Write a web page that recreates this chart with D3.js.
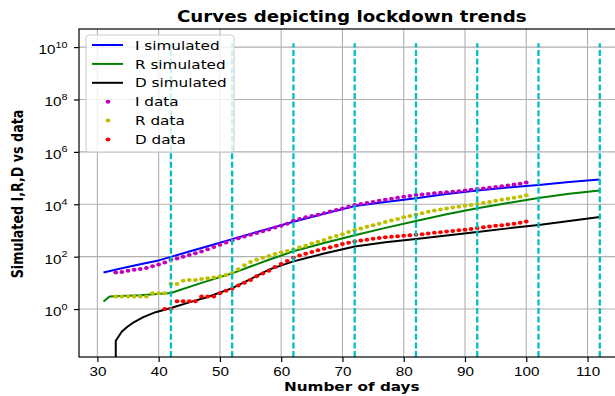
<!DOCTYPE html>
<html>
<head>
<meta charset="utf-8">
<script src="https://cdn.jsdelivr.net/npm/d3@7"></script>
<style>
  body { margin: 0; background: #fff; }
  svg { display: block; font-family: "DejaVu Sans", sans-serif; }
</style>
</head>
<body>
<div id="chart-container"></div>
<script>
// simulated curves (day, value)
const simIDays = [31, 34, 37, 40, 42, 45, 48, 52, 55, 58, 62, 67, 72, 77, 82, 87, 92, 97, 102, 107, 112];
const simI = [25, 36, 51, 72, 98, 158, 251, 468, 741, 1175, 2138, 4365, 8511, 12303, 16982, 24547, 33884, 43652, 54954, 70795, 89125];

const simRDays = [31, 32, 37, 42, 47, 52, 55, 58, 62, 67, 72, 77, 82, 87, 92, 97, 102, 107, 112];
const simR = [1.95, 3.0, 3.4, 4.1, 10, 23, 42, 76, 160, 331, 661, 1259, 2291, 4169, 7079, 11220, 17378, 25119, 33884];

const simDDays = [33, 33, 34, 35, 36, 37.5, 39.5, 42, 45, 48, 52, 55, 58, 62, 67, 72, 77, 82, 87, 92, 97, 102, 107, 112];
const simD = [0, 0.062, 0.14, 0.22, 0.32, 0.49, 0.76, 1.1, 1.8, 2.9, 6.3, 14, 32, 66, 132, 245, 355, 468, 646, 871, 1202, 1622, 2291, 3236];

// observed data, one value per day
const dataIRDays = d3.range(33, 101);
const dataI = [25, 26, 29, 32, 34, 37, 43, 50, 60, 76, 85, 100, 115, 135, 158, 191, 234, 282, 347, 417,
  501, 589, 692, 794, 933, 1096, 1288, 1514, 1820, 2399, 2754, 3162, 3548, 3981, 4571, 5248, 6026, 6918,
  8128, 9333, 10233, 11220, 12303, 13490, 14791, 16218, 17783, 19498, 20893, 22387, 23442, 24547, 26303,
  27542, 28840, 30200, 31623, 33884, 35481, 38019, 39811, 42658, 45709, 48978, 52481, 56234, 60256, 67608];
const dataR = [3, 3, 3, 3, 3, 3, 4, 4, 4, 9, 9, 12, 13, 13, 14, 15, 16, 18, 20, 24,
  33, 47, 63, 76, 91, 107, 126, 145, 166, 186, 224, 263, 316, 372, 437, 525, 617, 724,
  871, 1047, 1202, 1380, 1585, 1820, 2089, 2399, 2754, 3162, 3548, 4074, 4571, 5129, 5754,
  6310, 6918, 7586, 8128, 8710, 9333, 10233, 11220, 12303, 13490, 14791, 16218, 17783, 19498, 21878];
const dataDDays = d3.range(41, 101);
const dataD = [1, 1, 2, 2, 2, 2, 3, 3, 3, 4, 5, 6, 8, 10, 13, 18, 23, 29, 40, 52, 69, 91,
  110, 129, 151, 174, 200, 229, 263, 302, 339, 380, 417, 447, 479, 513, 550, 575, 603, 631,
  661, 692, 724, 759, 813, 851, 912, 955, 1023, 1072, 1148, 1230, 1318, 1413, 1514, 1585,
  1698, 1820, 1950, 2188];

// lockdown markers
const lockdownDays = [42, 52, 62, 72, 82, 92, 102, 112];
const lockdownTop = 1.4e10;

const xTicks = [30, 40, 50, 60, 70, 80, 90, 100, 110];
const yTickExps = [0, 2, 4, 6, 8, 10];

// the picture is stretched sideways, text too
const stretch = 1.2;
const fs = 12.7;

function drawChart() {
  const margin = { top: 29, left: 79 };
  const width = 545.6;
  const height = 328;

  const root = d3.select("#chart-container")
    .append("svg")
    .attr("width", 615)
    .attr("height", 396);

  root.append("defs").append("clipPath").attr("id", "plot-clip")
    .append("rect").attr("width", width).attr("height", height);

  const svg = root.append("g").attr("transform", `translate(${margin.left},${margin.top})`);

  const x = d3.scaleLinear().domain([27, 116.05]).range([0, width]);
  const y = d3.scaleLog().domain([0.0148, 4.9e10]).range([height, 0]);
  const yPos = (v) => (v > 0 ? y(v) : height + 10);

  // grid
  svg.append("g").selectAll("line").data(xTicks).join("line")
    .attr("x1", (d) => x(d)).attr("x2", (d) => x(d))
    .attr("y1", 0).attr("y2", height)
    .attr("stroke", "#b0b0b0").attr("stroke-width", 1.1);
  svg.append("g").selectAll("line").data(yTickExps).join("line")
    .attr("x1", 0).attr("x2", width)
    .attr("y1", (d) => y(Math.pow(10, d))).attr("y2", (d) => y(Math.pow(10, d)))
    .attr("stroke", "#b0b0b0").attr("stroke-width", 1.1);

  const plot = svg.append("g").attr("clip-path", "url(#plot-clip)");

  const line = d3.line().x((d) => x(d[0])).y((d) => yPos(d[1]));

  const curves = [
    { days: simIDays, vals: simI, color: "#0000ff" },
    { days: simRDays, vals: simR, color: "#008000" },
    { days: simDDays, vals: simD, color: "#000000" },
  ];
  curves.forEach((c) => {
    plot.append("path")
      .datum(c.days.map((d, i) => [d, c.vals[i]]))
      .attr("fill", "none")
      .attr("stroke", c.color)
      .attr("stroke-width", 2)
      .attr("stroke-linejoin", "round")
      .attr("d", line);
  });

  const dots = [
    { days: dataIRDays, vals: dataI, color: "#bf00bf" },
    { days: dataIRDays, vals: dataR, color: "#bfbf00" },
    { days: dataDDays, vals: dataD, color: "#ff0000" },
  ];
  dots.forEach((s) => {
    plot.append("g").selectAll("ellipse")
      .data(s.days.map((d, i) => [d, s.vals[i]]))
      .join("ellipse")
      .attr("cx", (d) => x(d[0]))
      .attr("cy", (d) => yPos(d[1]))
      .attr("rx", 2.4).attr("ry", 2.0)
      .attr("fill", s.color);
  });

  // lockdown dashed lines
  plot.append("g").selectAll("line").data(lockdownDays).join("line")
    .attr("x1", (d) => x(d)).attr("x2", (d) => x(d))
    .attr("y1", height).attr("y2", y(lockdownTop))
    .attr("stroke", "#00bfbf")
    .attr("stroke-width", 2.3)
    .attr("stroke-dasharray", "6,2.6");

  // axes
  const xAxis = svg.append("g")
    .attr("transform", `translate(0,${height})`)
    .call(d3.axisBottom(x).tickValues(xTicks).tickSize(5).tickPadding(4.5));
  xAxis.selectAll("text")
    .attr("font-size", fs).attr("fill", "#000")
    .attr("transform", `scale(${stretch},1)`);

  const yAxis = svg.append("g")
    .call(d3.axisLeft(y).tickValues(yTickExps.map((e) => Math.pow(10, e))).tickSize(5).tickFormat(""));
  yAxis.selectAll(".tick").each(function (d) {
    const t = d3.select(this).append("text")
      .attr("transform", `translate(-11.5,6.5) scale(${stretch},1)`)
      .attr("text-anchor", "end")
      .attr("fill", "#000")
      .attr("font-size", fs);
    t.append("tspan").text("10");
    t.append("tspan").attr("dy", -6.5).attr("font-size", 9).text(Math.round(Math.log10(d)));
  });
  [xAxis, yAxis].forEach((a) => {
    a.select(".domain").remove();
    a.selectAll(".tick line").attr("stroke", "#000").attr("stroke-width", 1.2);
  });

  // frame
  svg.append("rect")
    .attr("width", width).attr("height", height)
    .attr("fill", "none").attr("stroke", "#000").attr("stroke-width", 1.2);

  // legend
  const legend = svg.append("g").attr("transform", "translate(7,6)");
  legend.append("rect")
    .attr("width", 148).attr("height", 117).attr("rx", 3)
    .attr("fill", "#fff").attr("fill-opacity", 0.8)
    .attr("stroke", "#cccccc").attr("stroke-width", 1);
  const entries = [
    { label: "I simulated", color: "#0000ff", kind: "line" },
    { label: "R simulated", color: "#008000", kind: "line" },
    { label: "D simulated", color: "#000000", kind: "line" },
    { label: "I data", color: "#bf00bf", kind: "dot" },
    { label: "R data", color: "#bfbf00", kind: "dot" },
    { label: "D data", color: "#ff0000", kind: "dot" },
  ];
  entries.forEach((e, i) => {
    const g = legend.append("g").attr("transform", `translate(0,${10 + i * 18.9})`);
    if (e.kind === "line") {
      g.append("line").attr("x1", 6).attr("x2", 37).attr("y1", 0).attr("y2", 0)
        .attr("stroke", e.color).attr("stroke-width", 2);
    } else {
      g.append("ellipse").attr("cx", 22).attr("cy", 0).attr("rx", 2.4).attr("ry", 2.0).attr("fill", e.color);
    }
    g.append("text")
      .attr("transform", `translate(49,4.6) scale(${stretch},1)`)
      .attr("font-size", fs).attr("fill", "#000").text(e.label);
  });

  // labels
  root.append("text")
    .attr("transform", `translate(${margin.left + width / 2},21.5) scale(${stretch},1)`)
    .attr("text-anchor", "middle").attr("font-weight", "bold").attr("font-size", 15.2)
    .text("Curves depicting lockdown trends");
  root.append("text")
    .attr("transform", `translate(${margin.left + width / 2},391) scale(${stretch},1)`)
    .attr("text-anchor", "middle").attr("font-weight", "bold").attr("font-size", fs)
    .text("Number of days");
  root.append("text")
    .attr("transform", `translate(23,194) scale(${stretch},1) rotate(-90)`)
    .attr("text-anchor", "middle").attr("font-weight", "bold").attr("font-size", fs)
    .text("Simulated I,R,D vs data");
}

drawChart();
</script>
</body>
</html>
